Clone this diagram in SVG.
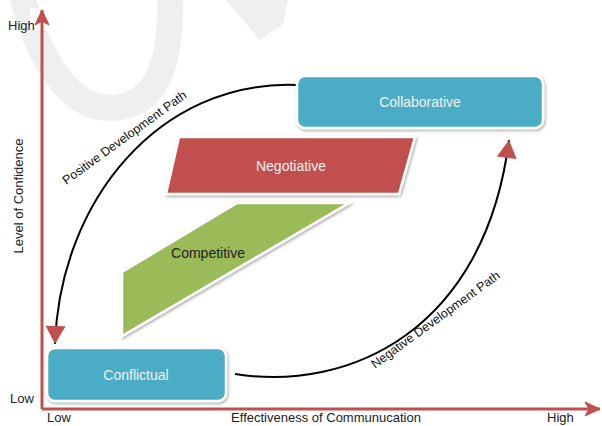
<svg xmlns="http://www.w3.org/2000/svg" width="602" height="426" viewBox="0 0 602 426">
  <defs>
    <filter id="shadow" x="-10%" y="-10%" width="130%" height="140%">
      <feDropShadow dx="1" dy="1.5" stdDeviation="1.5" flood-color="#000" flood-opacity="0.35"/>
    </filter>
    <marker id="redHead" markerUnits="userSpaceOnUse" markerWidth="24" markerHeight="24" viewBox="0 0 24 24" refX="20" refY="12" orient="auto">
      <path d="M2,2 L20,12 L2,22 Z" fill="#c0504d"/>
    </marker>
    <marker id="axisHead" markerUnits="userSpaceOnUse" markerWidth="20" markerHeight="20" viewBox="0 0 20 20" refX="17" refY="10" orient="auto">
      <path d="M2,3 L17,10 L2,17 L6,10 Z" fill="#c0504d" stroke="#c0504d" stroke-width="1" stroke-linejoin="round"/>
    </marker>
  </defs>
  <style>
    text { font-family: "Liberation Sans", Arial, sans-serif; }
    .axis { stroke: #c0504d; stroke-width: 3; fill: none; }
    .axisLabel { font-size: 13px; fill: #222; }
    .shape { stroke: #ffffff; stroke-width: 2.5; filter: url(#shadow); }
    .blue { fill: #4bacc6; }
    .red { fill: #c0504d; }
    .green { fill: #9bbb59; }
    .light { font-size: 14px; fill: #f2f2f2; text-anchor: middle; }
    .dark { font-size: 14px; fill: #222; text-anchor: middle; }
    .path { stroke: #000; stroke-width: 2; fill: none; }
    .pathLabel { font-size: 12.5px; fill: #111; text-anchor: middle; }
  </style>

  <!-- faint background watermark strokes -->
  <g id="watermark" fill="none" stroke="#efefef">
    <path d="M22,-5 C38,60 70,108 110,108 C158,108 172,60 170,-5" stroke-width="26"/>
    <polygon points="226,0 288,0 283,24 260,40" fill="#efefef" stroke="none"/>
  </g>

  <!-- axes -->
  <g id="axes">
    <rect x="30" y="8" width="25" height="22" fill="#fff"/>
    <line class="axis" x1="42" y1="409" x2="42" y2="10" marker-end="url(#axisHead)"/>
    <line class="axis" x1="42" y1="409" x2="600" y2="409" marker-end="url(#axisHead)"/>
    <text class="axisLabel" x="8" y="30">High</text>
    <text class="axisLabel" x="10" y="403">Low</text>
    <text class="axisLabel" x="47" y="422">Low</text>
    <text class="axisLabel" x="547" y="422">High</text>
    <text class="axisLabel" x="326" y="422" text-anchor="middle">Effectiveness of Communucation</text>
    <text class="axisLabel" transform="translate(23,196) rotate(-90)" text-anchor="middle">Level of Confidence</text>
  </g>

  <!-- development paths -->
  <g id="connectors">
    <path class="path" d="M296,85 C160,80 60,200 55,344" marker-end="url(#redHead)"/>
    <path class="path" d="M235,374 C350,392 485,330 509,140" marker-end="url(#redHead)"/>
    <text class="pathLabel" transform="translate(127,141) rotate(-36)">Positive Development Path</text>
    <text class="pathLabel" transform="translate(438,323) rotate(-36)">Negative Development Path</text>
  </g>

  <g id="collaborative">
    <rect class="shape blue" x="297" y="76" width="246" height="52" rx="8"/>
    <text class="light" x="420" y="107">Collaborative</text>
  </g>

  <g id="negotiative">
    <polygon class="shape red" points="179,137 415,137 399,194 166,194"/>
    <text class="light" x="291" y="171">Negotiative</text>
  </g>

  <g id="competitive">
    <polygon class="shape green" points="122,272 237,203 349,203 122,336"/>
    <text class="dark" x="208" y="258">Competitive</text>
  </g>

  <g id="conflictual">
    <rect class="shape blue" x="47" y="348" width="179" height="53" rx="8"/>
    <text class="light" x="136" y="380">Conflictual</text>
  </g>
</svg>
